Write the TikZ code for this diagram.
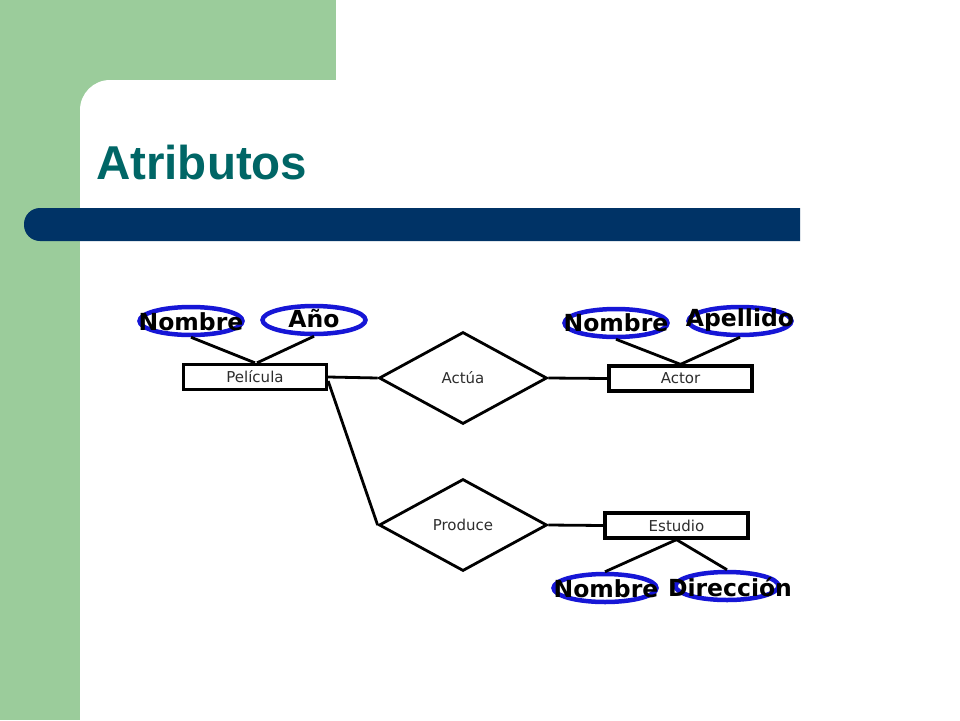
\documentclass[tikz,border=0pt]{standalone}
\usepackage{fontspec}
\setmainfont{Liberation Sans}
\newfontfamily\djv{DejaVu Sans}
\usetikzlibrary{shapes.geometric}
\definecolor{slidegreen}{RGB}{155,204,155}
\definecolor{barblue}{RGB}{0,51,102}
\definecolor{titleteal}{RGB}{0,102,102}
\definecolor{ovalblue}{RGB}{22,22,214}
\definecolor{labelgray}{RGB}{45,45,45}
\tikzset{
  entity/.style={draw=black, line width=3.3pt, rectangle, inner sep=0pt,
    minimum width=143pt, minimum height=25pt, font=\djv\fontsize{15}{15}\selectfont, text=labelgray},
  relation/.style={draw=black, line width=2.8pt, diamond, inner sep=0pt,
    minimum width=168pt, minimum height=92pt, font=\djv\fontsize{15}{15}\selectfont, text=labelgray},
  attr/.style={draw=ovalblue, line width=4.5pt, ellipse, inner sep=0pt,
    minimum width=103pt, minimum height=28pt},
  attrtext/.style={font=\djv\bfseries\fontsize{23.5}{23.5}\selectfont, text=black, inner sep=0pt},
  link/.style={draw=black, line width=2.8pt}
}
\begin{document}
\begin{tikzpicture}[x=1pt, y=-1pt]
\useasboundingbox (0,0) rectangle (960,720);
% background
\fill[white] (0,0) rectangle (960,720);
\fill[slidegreen] (0,0) rectangle (336,720);
\fill[white] (80,720) [rounded corners=30pt] -- (80,80) [sharp corners] -- (340,80) -- (340,720) -- cycle;
\fill[barblue] (800,208) [rounded corners=16pt] -- (24,208) -- (24,241) [sharp corners] -- (800,241) -- cycle;
\node[anchor=base west, inner sep=0pt, text=titleteal, font=\bfseries\fontsize{47.5}{47.5}\selectfont] (title) at (96,179) {Atributos};

% entities
\node[entity] (pel) at (255,377) {Película};
\node[entity] (actor) at (680.5,378.5) {Actor};
\node[entity] (estudio) at (676.5,525.5) {Estudio};

% relationships
\node[relation] (actua) at (463,378) {Actúa};
\node[relation] (produce) at (463,525) {Produce};

% attributes
\node[attr] (pnom) at (191,321) {};
\node[attrtext] (pnomt) at (191,322) {Nombre};
\node[attr] (pano) at (314,320) {};
\node[attrtext] (panot) at (314,319) {Año};
\node[attr] (anom) at (616,323) {};
\node[attrtext] (anomt) at (616,323) {Nombre};
\node[attr] (aape) at (740,321) {};
\node[attrtext] (aapet) at (740,320) {Apellido};
\node[attr] (enom) at (605,588) {};
\node[attrtext] (enomt) at (606,589) {Nombre};
\node[attr] (edir) at (727,586) {};
\node[attrtext] (edirt) at (730,587) {Dirección};

% connectors
\draw[link] (pel.east) -- (actua.west);
\draw[link] ([yshift=-4pt]pel.east) -- (produce.west);
\draw[link] (actua.east) -- (actor.west);
\draw[link] (produce.east) -- (estudio.west);
\draw[link] (pnom.south) -- (pel.north);
\draw[link] (pano.south) -- ([xshift=2pt]pel.north);
\draw[link] (anom.south) -- (actor.north);
\draw[link] (aape.south) -- (actor.north);
\draw[link] (estudio.south) -- (enom.north);
\draw[link] (estudio.south) -- (edir.north);
\end{tikzpicture}
\end{document}
